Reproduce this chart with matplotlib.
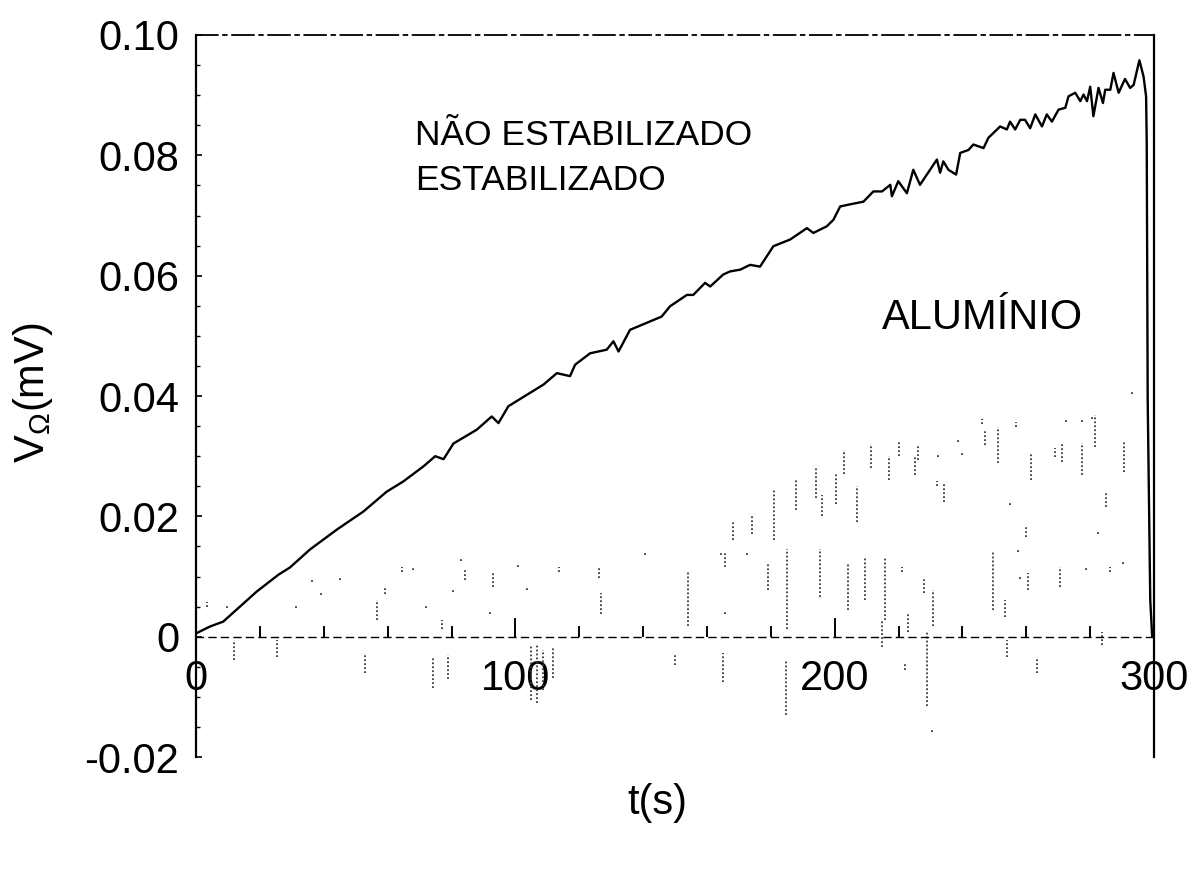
import matplotlib
matplotlib.use("Agg")
import matplotlib.pyplot as plt
from matplotlib.ticker import FixedLocator, FixedFormatter, MultipleLocator

plt.rcParams['font.family'] = ['Liberation Sans', 'DejaVu Sans']

# Time (s) and voltage (mV) of the unstabilised run
t_unstab = [0.2, 4.4, 8.5, 12.7, 19.0, 25.8, 29.4, 35.7, 44.1, 52.4, 59.7, 64.9,
            71.2, 74.9, 77.5, 80.6, 87.9, 92.6, 94.7, 97.8, 103.6, 108.8, 113.0,
            117.1, 118.7, 123.4, 128.6, 130.7, 132.3, 135.9, 142.2, 145.8, 148.4,
            153.7, 155.7, 159.4, 161.0, 165.1, 167.2, 170.4, 173.5, 176.6, 180.8,
            186.0, 191.3, 193.3, 197.5, 199.6, 201.7, 204.3, 209.0, 212.1, 214.8,
            217.4, 217.9, 219.9, 222.6, 224.6, 226.7, 232.0, 233.0, 234.0, 235.6,
            238.0, 239.3, 241.9, 243.4, 246.6, 248.1, 251.8, 253.9, 254.9, 256.5,
            258.1, 259.6, 261.2, 262.8, 264.9, 266.4, 268.0, 270.1, 272.2, 273.2,
            275.3, 276.9, 277.9, 279.0, 280.0, 281.0, 282.6, 284.0, 284.7, 286.3,
            287.3, 288.9, 290.9, 292.5, 293.6, 295.4, 296.7, 297.5, 297.7, 298.0,
            298.8, 299.4]
v_unstab = [0.0006, 0.0017, 0.0025, 0.0045, 0.0075, 0.0103, 0.0115, 0.0145, 0.0178,
            0.0208, 0.0241, 0.0258, 0.0283, 0.0300, 0.0295, 0.0321, 0.0344, 0.0366,
            0.0355, 0.0383, 0.0402, 0.0419, 0.0438, 0.0433, 0.0452, 0.0471, 0.0477,
            0.0491, 0.0474, 0.0510, 0.0524, 0.0532, 0.0549, 0.0568, 0.0568, 0.0588,
            0.0582, 0.0602, 0.0607, 0.0610, 0.0618, 0.0615, 0.0649, 0.0660, 0.0679,
            0.0671, 0.0682, 0.0693, 0.0715, 0.0718, 0.0723, 0.0740, 0.0740, 0.0751,
            0.0732, 0.0757, 0.0737, 0.0776, 0.0751, 0.0793, 0.0771, 0.0790, 0.0776,
            0.0768, 0.0804, 0.0809, 0.0818, 0.0812, 0.0829, 0.0848, 0.0843, 0.0856,
            0.0843, 0.0859, 0.0859, 0.0845, 0.0868, 0.0848, 0.0868, 0.0856, 0.0876,
            0.0879, 0.0898, 0.0904, 0.0890, 0.0901, 0.0890, 0.0914, 0.0865, 0.0912,
            0.0887, 0.0909, 0.0909, 0.0937, 0.0904, 0.0927, 0.0912, 0.0917, 0.0958,
            0.0931, 0.0898, 0.0821, 0.0394, 0.0061, 0.0]

# Stabilised run: excursions (time, upper and lower voltage of each excursion)
stab_t = [3.4, 9.7, 11.9, 25.4, 31.3, 36.3, 39.1, 45.1, 52.9, 56.7, 59.2, 64.5,
          67.9, 72.0, 74.2, 77.0, 78.9, 80.5, 83.0, 84.2, 92.1, 93.0, 100.8,
          103.7, 104.9, 106.8, 108.7, 111.8, 113.7, 126.2, 126.8, 140.6, 150.0,
          154.1, 164.4, 165.0, 165.7, 165.7, 168.0, 172.6, 174.0, 179.1, 181.0,
          184.8, 185.1, 188.0, 194.0, 195.4, 196.0, 200.5, 203.0, 204.2, 207.0,
          209.5, 211.5, 214.8, 215.8, 217.0, 220.0, 221.1, 222.0, 223.0, 225.2,
          226.1, 228.0, 228.9, 230.5, 230.8, 232.1, 232.4, 234.3, 238.6, 239.9,
          246.2, 247.1, 249.6, 251.2, 253.4, 254.0, 254.9, 256.8, 257.4, 258.1,
          259.9, 260.6, 261.5, 263.4, 269.0, 270.6, 271.2, 272.5, 277.5, 277.5,
          278.7, 280.6, 281.6, 282.5, 283.7, 285.0, 286.3, 290.3, 290.6, 293.1]
stab_hi = [0.0057, 0.0053, -0.0005, -0.0005, 0.0053, 0.0098, 0.0076, 0.0101,
           -0.0027, 0.0061, 0.0085, 0.0115, 0.0118, 0.0053, -0.0033, 0.0028,
           -0.0030, 0.0081, 0.0131, 0.0111, 0.0043, 0.0106, 0.0123, 0.0085,
           -0.0013, -0.0013, -0.0022, -0.0017, 0.0115, 0.0115, 0.0073, 0.0143,
           -0.0030, 0.0108, 0.0143, -0.0027, 0.0140, 0.0045, 0.0190, 0.0143,
           0.0200, 0.0123, 0.0245, -0.0038, 0.0145, 0.0260, 0.0280, 0.0145,
           0.0235, 0.0270, 0.0310, 0.0120, 0.0250, 0.0133, 0.0320, 0.0028,
           0.0133, 0.0300, 0.0325, 0.0115, -0.0043, 0.0037, 0.0299, 0.0319,
           0.0100, 0.0007, -0.0151, 0.0078, 0.0258, 0.0306, 0.0256, 0.0331,
           0.0309, 0.0361, 0.0344, 0.0140, 0.0349, 0.0061, -0.0005, 0.0226,
           0.0356, 0.0148, 0.0103, 0.0183, 0.0106, 0.0306, -0.0033, 0.0314,
           0.0115, 0.0322, 0.0364, 0.0364, 0.0322, 0.0118, 0.0367, 0.0369,
           0.0178, 0.0007, 0.0239, 0.0115, 0.0126, 0.0324, 0.0410]
stab_lo = [0.0050, 0.0047, -0.0038, -0.0033, 0.0047, 0.0091, 0.0070, 0.0095,
           -0.0060, 0.0028, 0.0071, 0.0108, 0.0111, 0.0047, -0.0085, 0.0012,
           -0.0071, 0.0075, 0.0125, 0.0095, 0.0037, 0.0083, 0.0116, 0.0078,
           -0.0105, -0.0110, -0.0088, -0.0068, 0.0108, 0.0098, 0.0037, 0.0136,
           -0.0047, 0.0017, 0.0136, -0.0076, 0.0116, 0.0038, 0.0160, 0.0136,
           0.0170, 0.0078, 0.0160, -0.0130, 0.0012, 0.0210, 0.0230, 0.0066,
           0.0200, 0.0220, 0.0270, 0.0045, 0.0190, 0.0061, 0.0280, -0.0017,
           0.0028, 0.0260, 0.0300, 0.0108, -0.0055, 0.0007, 0.0269, 0.0294,
           0.0073, -0.0116, -0.0158, 0.0017, 0.0251, 0.0299, 0.0224, 0.0324,
           0.0302, 0.0354, 0.0319, 0.0045, 0.0289, 0.0033, -0.0033, 0.0219,
           0.0349, 0.0141, 0.0096, 0.0166, 0.0078, 0.0261, -0.0060, 0.0299,
           0.0083, 0.0291, 0.0357, 0.0357, 0.0269, 0.0111, 0.0361, 0.0316,
           0.0171, -0.0013, 0.0216, 0.0108, 0.0120, 0.0273, 0.0404]

x_major = [0, 100, 200, 300]
x_labels = ["0", "100", "200", "300"]
y_major = [-0.02, 0.0, 0.02, 0.04, 0.06, 0.08, 0.10]
y_labels = ["-0.02", "0", "0.02", "0.04", "0.06", "0.08", "0.10"]

fig = plt.figure(figsize=(11.91, 8.77), dpi=100)
ax = fig.add_axes([0.1646, 0.1368, 0.8044, 0.8233])

ax.vlines(stab_t, stab_lo, stab_hi, colors='#3a3a3a', linestyles=(0, (1, 1.2)),
          linewidth=1.3)
ax.plot(t_unstab, v_unstab, color='black', linewidth=1.7, solid_joinstyle='round')

ax.set_xlim(0, 300)
ax.set_ylim(-0.02, 0.10)

# x axis runs along V = 0
ax.spines['bottom'].set_position(('data', 0))
ax.spines['bottom'].set_linestyle((0, (5, 4)))
ax.spines['bottom'].set_linewidth(1.0)
ax.spines['top'].set_linestyle((0, (12, 3, 2, 3)))
ax.spines['top'].set_linewidth(1.3)
ax.spines['left'].set_linewidth(1.6)
ax.spines['right'].set_linewidth(1.6)

ax.xaxis.set_major_locator(FixedLocator(x_major))
ax.xaxis.set_major_formatter(FixedFormatter(x_labels))
ax.xaxis.set_minor_locator(MultipleLocator(20))
ax.yaxis.set_major_locator(FixedLocator(y_major))
ax.yaxis.set_major_formatter(FixedFormatter(y_labels))
ax.yaxis.set_minor_locator(MultipleLocator(0.005))

ax.tick_params(axis='x', which='major', direction='in', length=14, width=1.4,
               labelsize=30, pad=16)
ax.tick_params(axis='x', which='minor', direction='in', length=8, width=1.4)
ax.tick_params(axis='y', which='major', direction='in', length=4, width=1.2,
               labelsize=30, pad=12)
ax.tick_params(axis='y', which='minor', direction='in', length=3, width=1.0)

ax.text(68.6, 0.0833, "NÃO ESTABILIZADO", fontsize=25.5, va='center', ha='left')
ax.text(68.6, 0.0758, "ESTABILIZADO", fontsize=25.5, va='center', ha='left')
ax.text(214.8, 0.0530, "ALUMÍNIO", fontsize=30, va='center', ha='left')

fig.text(0.552, 0.0844, "t(s)", fontsize=30, ha='center', va='center')
fig.text(0.0277, 0.552, r"$\mathregular{V_Ω}$(mV)", fontsize=30, ha='center',
         va='center', rotation=90)

fig.savefig("out.png", dpi=100)
